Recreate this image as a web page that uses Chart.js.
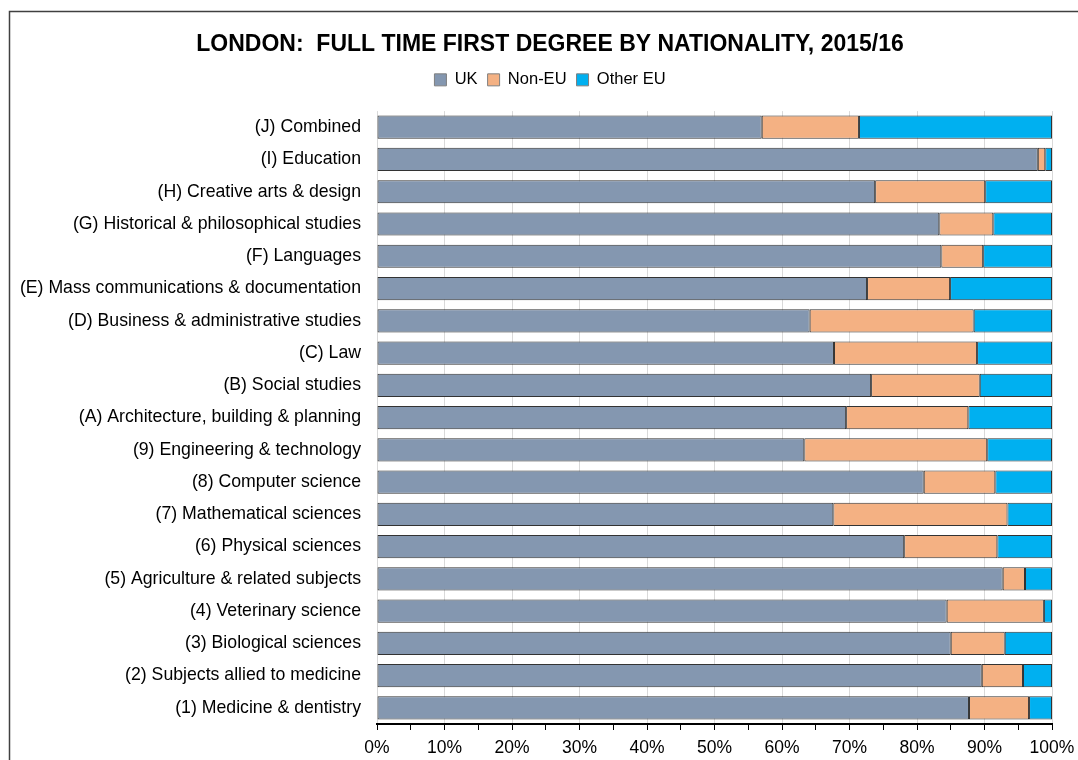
<!DOCTYPE html>
<html>
<head>
<meta charset="utf-8">
<script src="https://cdn.jsdelivr.net/npm/chart.js@4.4.1/dist/chart.umd.min.js"></script>
<style>
  html, body { margin: 0; padding: 0; background: #fff; }
  #wrap { width: 1078px; height: 760px; }
</style>
</head>
<body>
<div id="wrap"><canvas id="chart" width="1078" height="760"></canvas></div>
<script>
// subject areas, top to bottom
const subjects = [
    '(J) Combined',
    '(I) Education',
    '(H) Creative arts & design',
    '(G) Historical & philosophical studies',
    '(F) Languages',
    '(E) Mass communications & documentation',
    '(D) Business & administrative studies',
    '(C) Law',
    '(B) Social studies',
    '(A) Architecture, building & planning',
    '(9) Engineering & technology',
    '(8) Computer science',
    '(7) Mathematical sciences',
    '(6) Physical sciences',
    '(5) Agriculture & related subjects',
    '(4) Veterinary science',
    '(3) Biological sciences',
    '(2) Subjects allied to medicine',
    '(1) Medicine & dentistry'
];

// percent shares
const uk      = [57.0, 97.9, 73.8, 83.3, 83.6, 72.6, 64.1, 67.7, 73.2, 69.5, 63.3, 81.0, 67.6, 78.1, 92.7, 84.4, 85.0, 89.6, 87.7];
const nonEu   = [14.4,  1.1, 16.3,  8.0,  6.2, 12.3, 24.3, 21.2, 16.1, 18.1, 27.1, 10.6, 25.8, 13.8,  3.3, 14.4,  8.0,  6.1,  8.9];
const otherEu = [28.6,  1.0,  9.9,  8.7, 10.2, 15.1, 11.6, 11.1, 10.7, 12.4,  9.6,  8.4,  6.6,  8.1,  4.0,  1.2,  7.0,  4.3,  3.4];

Chart.defaults.font.family = '"Liberation Sans", Arial, sans-serif';
Chart.defaults.color = '#000';

// thin frame round the chart, like the spreadsheet chart box
const frame = {
    id: 'frame',
    beforeDraw(chart) {
        let ctx = chart.ctx;
        ctx.save();
        ctx.fillStyle = '#fff';
        ctx.fillRect(0, 0, chart.width, chart.height);
        ctx.strokeStyle = '#404040';
        ctx.lineWidth = 1.5;
        ctx.strokeRect(9.5, 11.5, 1200, 900);
        ctx.restore();
    }
};

// more room under the legend, and title + legend centred a bit to the right
const headerTweak = {
    id: 'headerTweak',
    afterInit(chart) {
        let legend = chart.legend;
        let fit = legend.fit;
        legend.fit = function () {
            fit.call(this);
            this.height += 13;
        };
    },
    afterLayout(chart) {
        chart.titleBlock.left += 48;
        chart.legend.left += 48;
        if (chart.legend.adjustHitBoxes) chart.legend.adjustHitBoxes();
    }
};

function dataset(label, data, colour) {
    return {
        label: label,
        data: data,
        backgroundColor: colour,
        borderColor: '#333',
        borderWidth: 1,
        borderSkipped: false,
        categoryPercentage: 1,
        barPercentage: 0.72
    };
}

let canvas = document.getElementById('chart');
let chart = new Chart(canvas, {
    type: 'bar',
    data: {
        labels: subjects,
        datasets: [
            dataset('UK', uk, '#8497B0'),
            dataset('Non-EU', nonEu, '#F4B183'),
            dataset('Other EU', otherEu, '#00B0F0')
        ]
    },
    plugins: [frame, headerTweak],
    options: {
        indexAxis: 'y',
        responsive: false,
        animation: false,
        layout: {padding: {left: 0, right: 26, top: 0, bottom: 0}},
        plugins: {
            title: {
                display: true,
                text: 'LONDON:  FULL TIME FIRST DEGREE BY NATIONALITY, 2015/16',
                font: {size: 23, weight: 'bold'},
                color: '#000',
                padding: {top: 31, bottom: 3}
            },
            legend: {
                display: true,
                labels: {
                    boxWidth: 12,
                    boxHeight: 12,
                    font: {size: 16.5},
                    color: '#000',
                    padding: 10,
                    generateLabels: (c) => c.data.datasets.map((d, i) => ({
                        text: d.label,
                        fillStyle: d.backgroundColor,
                        strokeStyle: '#7f7f7f',
                        lineWidth: 1,
                        datasetIndex: i
                    }))
                }
            },
            tooltip: {enabled: false}
        },
        scales: {
            x: {
                stacked: true,
                min: 0,
                max: 100,
                position: 'bottom',
                ticks: {
                    stepSize: 5,
                    autoSkip: false,
                    maxRotation: 0,
                    font: {size: 17.5},
                    color: '#000',
                    padding: 8,
                    callback: (v) => v % 10 === 0 ? v + '%' : ''
                },
                grid: {
                    color: (ctx) => ctx.tick && ctx.tick.value % 10 === 0 ? '#d9d9d9' : 'rgba(0,0,0,0)',
                    tickColor: '#000',
                    tickLength: 6,
                    lineWidth: 1
                },
                border: {color: '#000', width: 2},
                afterFit: (scale) => {
                    scale.height = 36;
                    scale.paddingLeft = 0;
                    scale.paddingRight = 0;
                }
            },
            y: {
                stacked: true,
                ticks: {
                    font: {size: 17.7},
                    color: '#000',
                    padding: 8,
                    autoSkip: false
                },
                grid: {display: false},
                border: {display: false},
                afterFit: (scale) => { scale.width = 377; }
            }
        }
    }
});
</script>
</body>
</html>
